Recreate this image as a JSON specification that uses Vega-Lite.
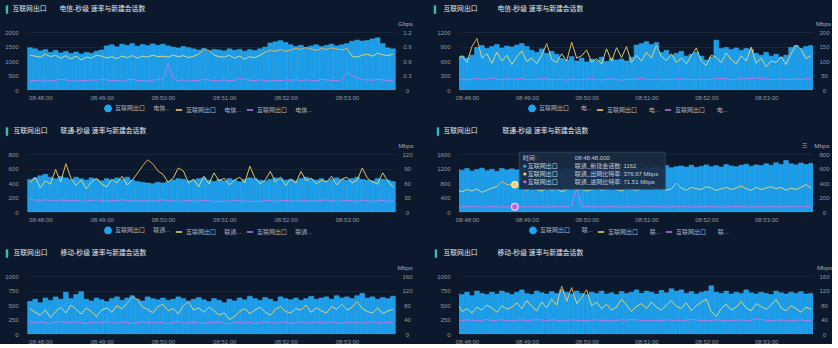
{
"$schema":"https://vega.github.io/schema/vega-lite/v6.json",
"background":"#0c192c",
"padding":{"left":4,"top":5,"right":0,"bottom":0},
"columns":2,
"spacing":{"row":64,"column":63},
"bounds":"flush",
"align":"each",
"resolve":{"scale":{"fill":"independent","stroke":"independent","shape":"independent"}},
"datasets":{
"tip":[{"t":"08:48:48","n":1162,"o":376.67,"i":71.51}],
"p1":[
{"t":"08:47:50","n":1460,"o":0.72,"i":0.2},{"t":"08:47:55","n":1420,"o":0.7,"i":0.19},{"t":"08:48:00","n":1350,"o":0.68,"i":0.21},{"t":"08:48:05","n":1390,"o":0.74,"i":0.18},{"t":"08:48:10","n":1300,"o":0.69,"i":0.19},{"t":"08:48:15","n":1360,"o":0.72,"i":0.2},{"t":"08:48:20","n":1280,"o":0.66,"i":0.22},{"t":"08:48:25","n":1330,"o":0.71,"i":0.21},{"t":"08:48:30","n":1260,"o":0.64,"i":0.19},{"t":"08:48:35","n":1310,"o":0.7,"i":0.18},{"t":"08:48:40","n":1240,"o":0.62,"i":0.2},{"t":"08:48:45","n":1300,"o":0.68,"i":0.19},
{"t":"08:48:50","n":1270,"o":0.66,"i":0.21},{"t":"08:48:55","n":1340,"o":0.72,"i":0.2},{"t":"08:49:00","n":1380,"o":0.7,"i":0.22},{"t":"08:49:05","n":1520,"o":0.66,"i":0.21},{"t":"08:49:10","n":1560,"o":0.69,"i":0.19},{"t":"08:49:15","n":1490,"o":0.65,"i":0.2},{"t":"08:49:20","n":1580,"o":0.7,"i":0.18},{"t":"08:49:25","n":1540,"o":0.67,"i":0.21},{"t":"08:49:30","n":1600,"o":0.71,"i":0.22},{"t":"08:49:35","n":1510,"o":0.66,"i":0.2},{"t":"08:49:40","n":1570,"o":0.7,"i":0.19},{"t":"08:49:45","n":1530,"o":0.68,"i":0.18},
{"t":"08:49:50","n":1590,"o":0.72,"i":0.2},{"t":"08:49:55","n":1540,"o":0.69,"i":0.22},{"t":"08:50:00","n":1580,"o":0.7,"i":0.21},{"t":"08:50:05","n":1520,"o":0.68,"i":0.56},{"t":"08:50:10","n":1480,"o":0.72,"i":0.24},{"t":"08:50:15","n":1450,"o":0.69,"i":0.19},{"t":"08:50:20","n":1500,"o":0.71,"i":0.21},{"t":"08:50:25","n":1460,"o":0.67,"i":0.18},{"t":"08:50:30","n":1420,"o":0.7,"i":0.2},{"t":"08:50:35","n":1380,"o":0.74,"i":0.19},{"t":"08:50:40","n":1430,"o":0.84,"i":0.23},{"t":"08:50:45","n":1350,"o":0.82,"i":0.21},
{"t":"08:50:50","n":1400,"o":0.72,"i":0.19},{"t":"08:50:55","n":1380,"o":0.69,"i":0.2},{"t":"08:51:00","n":1350,"o":0.68,"i":0.21},{"t":"08:51:05","n":1420,"o":0.72,"i":0.19},{"t":"08:51:10","n":1370,"o":0.66,"i":0.2},{"t":"08:51:15","n":1400,"o":0.7,"i":0.24},{"t":"08:51:20","n":1340,"o":0.64,"i":0.22},{"t":"08:51:25","n":1390,"o":0.69,"i":0.2},{"t":"08:51:30","n":1360,"o":0.67,"i":0.19},{"t":"08:51:35","n":1420,"o":0.72,"i":0.21},{"t":"08:51:40","n":1480,"o":0.78,"i":0.2},{"t":"08:51:45","n":1620,"o":0.82,"i":0.18},
{"t":"08:51:50","n":1660,"o":0.8,"i":0.2},{"t":"08:51:55","n":1700,"o":0.84,"i":0.19},{"t":"08:52:00","n":1640,"o":0.8,"i":0.21},{"t":"08:52:05","n":1560,"o":0.83,"i":0.2},{"t":"08:52:10","n":1500,"o":0.86,"i":0.22},{"t":"08:52:15","n":1540,"o":0.84,"i":0.19},{"t":"08:52:20","n":1470,"o":0.88,"i":0.21},{"t":"08:52:25","n":1520,"o":0.85,"i":0.2},{"t":"08:52:30","n":1560,"o":0.82,"i":0.19},{"t":"08:52:35","n":1500,"o":0.86,"i":0.22},{"t":"08:52:40","n":1540,"o":0.84,"i":0.21},{"t":"08:52:45","n":1580,"o":0.87,"i":0.2},
{"t":"08:52:50","n":1520,"o":0.85,"i":0.19},{"t":"08:52:55","n":1560,"o":0.83,"i":0.21},{"t":"08:53:00","n":1600,"o":0.86,"i":0.36},{"t":"08:53:05","n":1680,"o":0.7,"i":0.3},{"t":"08:53:10","n":1720,"o":0.68,"i":0.25},{"t":"08:53:15","n":1690,"o":0.72,"i":0.22},{"t":"08:53:20","n":1710,"o":0.74,"i":0.21},{"t":"08:53:25","n":1760,"o":0.7,"i":0.2},{"t":"08:53:30","n":1800,"o":0.76,"i":0.22},{"t":"08:53:35","n":1600,"o":0.73,"i":0.21},{"t":"08:53:40","n":1450,"o":0.71,"i":0.2},{"t":"08:53:45","n":1420,"o":0.74,"i":0.19}],
"p2":[
{"t":"08:47:50","n":640,"o":105,"i":36},{"t":"08:47:55","n":700,"o":118,"i":38},{"t":"08:48:00","n":660,"o":95,"i":35},{"t":"08:48:05","n":720,"o":150,"i":37},{"t":"08:48:10","n":880,"o":178,"i":40},{"t":"08:48:15","n":920,"o":110,"i":36},{"t":"08:48:20","n":860,"o":125,"i":38},{"t":"08:48:25","n":900,"o":92,"i":42},{"t":"08:48:30","n":940,"o":130,"i":37},{"t":"08:48:35","n":870,"o":100,"i":35},{"t":"08:48:40","n":910,"o":120,"i":39},{"t":"08:48:45","n":890,"o":88,"i":36},
{"t":"08:48:50","n":930,"o":115,"i":38},{"t":"08:48:55","n":960,"o":135,"i":40},{"t":"08:49:00","n":900,"o":98,"i":35},{"t":"08:49:05","n":820,"o":110,"i":37},{"t":"08:49:10","n":780,"o":90,"i":36},{"t":"08:49:15","n":850,"o":120,"i":39},{"t":"08:49:20","n":760,"o":160,"i":38},{"t":"08:49:25","n":800,"o":105,"i":35},{"t":"08:49:30","n":740,"o":95,"i":37},{"t":"08:49:35","n":650,"o":125,"i":36},{"t":"08:49:40","n":620,"o":100,"i":34},{"t":"08:49:45","n":690,"o":165,"i":38},
{"t":"08:49:50","n":600,"o":110,"i":36},{"t":"08:49:55","n":660,"o":118,"i":35},{"t":"08:50:00","n":580,"o":138,"i":37},{"t":"08:50:05","n":640,"o":96,"i":39},{"t":"08:50:10","n":610,"o":108,"i":36},{"t":"08:50:15","n":680,"o":90,"i":35},{"t":"08:50:20","n":590,"o":142,"i":37},{"t":"08:50:25","n":650,"o":100,"i":38},{"t":"08:50:30","n":620,"o":146,"i":36},{"t":"08:50:35","n":640,"o":112,"i":34},{"t":"08:50:40","n":600,"o":150,"i":37},{"t":"08:50:45","n":680,"o":95,"i":36},
{"t":"08:50:50","n":930,"o":120,"i":38},{"t":"08:50:55","n":960,"o":100,"i":40},{"t":"08:51:00","n":1000,"o":130,"i":37},{"t":"08:51:05","n":940,"o":110,"i":36},{"t":"08:51:10","n":980,"o":155,"i":38},{"t":"08:51:15","n":780,"o":115,"i":35},{"t":"08:51:20","n":820,"o":102,"i":37},{"t":"08:51:25","n":720,"o":125,"i":36},{"t":"08:51:30","n":760,"o":95,"i":38},{"t":"08:51:35","n":800,"o":110,"i":39},{"t":"08:51:40","n":700,"o":90,"i":36},{"t":"08:51:45","n":740,"o":118,"i":37},
{"t":"08:51:50","n":780,"o":145,"i":35},{"t":"08:51:55","n":700,"o":100,"i":38},{"t":"08:52:00","n":620,"o":85,"i":36},{"t":"08:52:05","n":680,"o":120,"i":37},{"t":"08:52:10","n":1030,"o":112,"i":39},{"t":"08:52:15","n":860,"o":95,"i":40},{"t":"08:52:20","n":880,"o":128,"i":38},{"t":"08:52:25","n":840,"o":105,"i":36},{"t":"08:52:30","n":870,"o":90,"i":37},{"t":"08:52:35","n":820,"o":118,"i":39},{"t":"08:52:40","n":860,"o":100,"i":38},{"t":"08:52:45","n":840,"o":148,"i":40},
{"t":"08:52:50","n":760,"o":92,"i":41},{"t":"08:52:55","n":720,"o":110,"i":39},{"t":"08:53:00","n":780,"o":80,"i":38},{"t":"08:53:05","n":700,"o":100,"i":37},{"t":"08:53:10","n":740,"o":95,"i":36},{"t":"08:53:15","n":680,"o":115,"i":38},{"t":"08:53:20","n":720,"o":88,"i":37},{"t":"08:53:25","n":880,"o":125,"i":36},{"t":"08:53:30","n":920,"o":155,"i":38},{"t":"08:53:35","n":860,"o":140,"i":37},{"t":"08:53:40","n":900,"o":108,"i":39},{"t":"08:53:45","n":920,"o":118,"i":38}],
"p3":[
{"t":"08:47:50","n":450,"o":60,"i":26},{"t":"08:47:55","n":470,"o":72,"i":25},{"t":"08:48:00","n":500,"o":50,"i":24},{"t":"08:48:05","n":520,"o":64,"i":25},{"t":"08:48:10","n":480,"o":58,"i":24},{"t":"08:48:15","n":460,"o":88,"i":23},{"t":"08:48:20","n":490,"o":62,"i":25},{"t":"08:48:25","n":470,"o":100,"i":24},{"t":"08:48:30","n":450,"o":70,"i":23},{"t":"08:48:35","n":480,"o":55,"i":24},{"t":"08:48:40","n":460,"o":66,"i":22},{"t":"08:48:45","n":440,"o":48,"i":23},
{"t":"08:48:50","n":470,"o":62,"i":24},{"t":"08:48:55","n":450,"o":70,"i":25},{"t":"08:49:00","n":430,"o":58,"i":23},{"t":"08:49:05","n":460,"o":52,"i":22},{"t":"08:49:10","n":440,"o":68,"i":24},{"t":"08:49:15","n":470,"o":60,"i":23},{"t":"08:49:20","n":450,"o":74,"i":25},{"t":"08:49:25","n":480,"o":56,"i":24},{"t":"08:49:30","n":440,"o":66,"i":23},{"t":"08:49:35","n":420,"o":80,"i":22},{"t":"08:49:40","n":410,"o":95,"i":24},{"t":"08:49:45","n":400,"o":108,"i":23},
{"t":"08:49:50","n":390,"o":100,"i":22},{"t":"08:49:55","n":410,"o":85,"i":24},{"t":"08:50:00","n":400,"o":78,"i":25},{"t":"08:50:05","n":420,"o":62,"i":24},{"t":"08:50:10","n":440,"o":70,"i":23},{"t":"08:50:15","n":460,"o":91,"i":22},{"t":"08:50:20","n":450,"o":85,"i":23},{"t":"08:50:25","n":430,"o":60,"i":24},{"t":"08:50:30","n":440,"o":68,"i":22},{"t":"08:50:35","n":460,"o":52,"i":23},{"t":"08:50:40","n":470,"o":74,"i":24},{"t":"08:50:45","n":440,"o":58,"i":23},
{"t":"08:50:50","n":420,"o":81,"i":22},{"t":"08:50:55","n":450,"o":64,"i":21},{"t":"08:51:00","n":430,"o":70,"i":23},{"t":"08:51:05","n":460,"o":56,"i":22},{"t":"08:51:10","n":440,"o":66,"i":24},{"t":"08:51:15","n":420,"o":72,"i":23},{"t":"08:51:20","n":450,"o":60,"i":22},{"t":"08:51:25","n":470,"o":95,"i":23},{"t":"08:51:30","n":460,"o":70,"i":21},{"t":"08:51:35","n":440,"o":58,"i":22},{"t":"08:51:40","n":430,"o":66,"i":24},{"t":"08:51:45","n":450,"o":84,"i":23},
{"t":"08:51:50","n":470,"o":62,"i":22},{"t":"08:51:55","n":460,"o":72,"i":23},{"t":"08:52:00","n":440,"o":55,"i":24},{"t":"08:52:05","n":450,"o":68,"i":23},{"t":"08:52:10","n":430,"o":60,"i":22},{"t":"08:52:15","n":460,"o":84,"i":23},{"t":"08:52:20","n":480,"o":65,"i":24},{"t":"08:52:25","n":450,"o":70,"i":22},{"t":"08:52:30","n":440,"o":58,"i":23},{"t":"08:52:35","n":460,"o":66,"i":24},{"t":"08:52:40","n":430,"o":62,"i":25},{"t":"08:52:45","n":450,"o":74,"i":23},
{"t":"08:52:50","n":470,"o":56,"i":22},{"t":"08:52:55","n":450,"o":68,"i":23},{"t":"08:53:00","n":440,"o":72,"i":24},{"t":"08:53:05","n":460,"o":60,"i":23},{"t":"08:53:10","n":480,"o":66,"i":22},{"t":"08:53:15","n":450,"o":91,"i":24},{"t":"08:53:20","n":440,"o":70,"i":23},{"t":"08:53:25","n":430,"o":62,"i":22},{"t":"08:53:30","n":460,"o":58,"i":23},{"t":"08:53:35","n":450,"o":81,"i":24},{"t":"08:53:40","n":440,"o":64,"i":22},{"t":"08:53:45","n":420,"o":52,"i":23}],
"p4":[
{"t":"08:47:50","n":1180,"o":300,"i":72},{"t":"08:47:55","n":1150,"o":280,"i":70},{"t":"08:48:00","n":1200,"o":310,"i":74},{"t":"08:48:05","n":1130,"o":290,"i":71},{"t":"08:48:10","n":1170,"o":320,"i":73},{"t":"08:48:15","n":1210,"o":270,"i":70},{"t":"08:48:20","n":1140,"o":300,"i":72},{"t":"08:48:25","n":1180,"o":330,"i":75},{"t":"08:48:30","n":1120,"o":350,"i":71},{"t":"08:48:35","n":1200,"o":420,"i":70},{"t":"08:48:40","n":1160,"o":380,"i":73},{"t":"08:48:45","n":1190,"o":370,"i":72},
{"t":"08:48:50","n":1160,"o":380,"i":71},{"t":"08:48:55","n":1230,"o":320,"i":70},{"t":"08:49:00","n":1170,"o":300,"i":74},{"t":"08:49:05","n":1200,"o":340,"i":72},{"t":"08:49:10","n":1150,"o":310,"i":71},{"t":"08:49:15","n":1180,"o":290,"i":73},{"t":"08:49:20","n":1210,"o":330,"i":70},{"t":"08:49:25","n":1160,"o":300,"i":72},{"t":"08:49:30","n":1190,"o":320,"i":74},{"t":"08:49:35","n":1140,"o":280,"i":71},{"t":"08:49:40","n":1200,"o":310,"i":73},{"t":"08:49:45","n":1170,"o":340,"i":90},
{"t":"08:49:50","n":1220,"o":300,"i":330},{"t":"08:49:55","n":1180,"o":320,"i":85},{"t":"08:50:00","n":1150,"o":290,"i":72},{"t":"08:50:05","n":1200,"o":310,"i":70},{"t":"08:50:10","n":1170,"o":330,"i":73},{"t":"08:50:15","n":1230,"o":300,"i":71},{"t":"08:50:20","n":1190,"o":320,"i":72},{"t":"08:50:25","n":1160,"o":340,"i":74},{"t":"08:50:30","n":1210,"o":310,"i":70},{"t":"08:50:35","n":1180,"o":290,"i":72},{"t":"08:50:40","n":1240,"o":330,"i":71},{"t":"08:50:45","n":1200,"o":310,"i":73},
{"t":"08:50:50","n":1220,"o":300,"i":70},{"t":"08:50:55","n":1180,"o":320,"i":72},{"t":"08:51:00","n":1250,"o":380,"i":74},{"t":"08:51:05","n":1210,"o":340,"i":71},{"t":"08:51:10","n":1260,"o":310,"i":73},{"t":"08:51:15","n":1230,"o":330,"i":72},{"t":"08:51:20","n":1280,"o":300,"i":70},{"t":"08:51:25","n":1220,"o":320,"i":71},{"t":"08:51:30","n":1250,"o":400,"i":74},{"t":"08:51:35","n":1270,"o":330,"i":72},{"t":"08:51:40","n":1240,"o":300,"i":73},{"t":"08:51:45","n":1290,"o":340,"i":70},
{"t":"08:51:50","n":1230,"o":320,"i":72},{"t":"08:51:55","n":1260,"o":310,"i":71},{"t":"08:52:00","n":1300,"o":350,"i":73},{"t":"08:52:05","n":1250,"o":330,"i":74},{"t":"08:52:10","n":1280,"o":300,"i":72},{"t":"08:52:15","n":1240,"o":320,"i":70},{"t":"08:52:20","n":1310,"o":340,"i":71},{"t":"08:52:25","n":1270,"o":310,"i":73},{"t":"08:52:30","n":1250,"o":330,"i":72},{"t":"08:52:35","n":1290,"o":360,"i":74},{"t":"08:52:40","n":1320,"o":320,"i":71},{"t":"08:52:45","n":1260,"o":300,"i":70},
{"t":"08:52:50","n":1300,"o":340,"i":72},{"t":"08:52:55","n":1280,"o":310,"i":73},{"t":"08:53:00","n":1330,"o":330,"i":71},{"t":"08:53:05","n":1290,"o":350,"i":72},{"t":"08:53:10","n":1360,"o":320,"i":74},{"t":"08:53:15","n":1310,"o":340,"i":70},{"t":"08:53:20","n":1420,"o":300,"i":73},{"t":"08:53:25","n":1330,"o":330,"i":72},{"t":"08:53:30","n":1300,"o":310,"i":71},{"t":"08:53:35","n":1350,"o":340,"i":73},{"t":"08:53:40","n":1310,"o":380,"i":72},{"t":"08:53:45","n":1340,"o":330,"i":71}],
"p5":[
{"t":"08:47:50","n":560,"o":70,"i":32},{"t":"08:47:55","n":600,"o":60,"i":30},{"t":"08:48:00","n":540,"o":52,"i":34},{"t":"08:48:05","n":620,"o":66,"i":31},{"t":"08:48:10","n":580,"o":45,"i":29},{"t":"08:48:15","n":640,"o":62,"i":33},{"t":"08:48:20","n":600,"o":74,"i":35},{"t":"08:48:25","n":720,"o":58,"i":30},{"t":"08:48:30","n":610,"o":80,"i":32},{"t":"08:48:35","n":680,"o":68,"i":34},{"t":"08:48:40","n":730,"o":55,"i":31},{"t":"08:48:45","n":600,"o":72,"i":29},
{"t":"08:48:50","n":570,"o":62,"i":33},{"t":"08:48:55","n":620,"o":48,"i":30},{"t":"08:49:00","n":590,"o":66,"i":32},{"t":"08:49:05","n":560,"o":72,"i":35},{"t":"08:49:10","n":610,"o":60,"i":31},{"t":"08:49:15","n":640,"o":78,"i":30},{"t":"08:49:20","n":580,"o":70,"i":33},{"t":"08:49:25","n":620,"o":85,"i":32},{"t":"08:49:30","n":660,"o":102,"i":29},{"t":"08:49:35","n":600,"o":96,"i":31},{"t":"08:49:40","n":570,"o":74,"i":34},{"t":"08:49:45","n":640,"o":68,"i":32},
{"t":"08:49:50","n":610,"o":58,"i":30},{"t":"08:49:55","n":590,"o":76,"i":33},{"t":"08:50:00","n":620,"o":82,"i":31},{"t":"08:50:05","n":580,"o":64,"i":29},{"t":"08:50:10","n":600,"o":70,"i":32},{"t":"08:50:15","n":640,"o":56,"i":34},{"t":"08:50:20","n":610,"o":78,"i":30},{"t":"08:50:25","n":570,"o":88,"i":31},{"t":"08:50:30","n":600,"o":66,"i":33},{"t":"08:50:35","n":630,"o":72,"i":30},{"t":"08:50:40","n":590,"o":60,"i":29},{"t":"08:50:45","n":560,"o":74,"i":32},
{"t":"08:50:50","n":610,"o":64,"i":31},{"t":"08:50:55","n":580,"o":52,"i":34},{"t":"08:51:00","n":540,"o":58,"i":30},{"t":"08:51:05","n":600,"o":40,"i":28},{"t":"08:51:10","n":570,"o":48,"i":31},{"t":"08:51:15","n":620,"o":62,"i":33},{"t":"08:51:20","n":590,"o":70,"i":30},{"t":"08:51:25","n":650,"o":56,"i":32},{"t":"08:51:30","n":610,"o":66,"i":29},{"t":"08:51:35","n":580,"o":74,"i":31},{"t":"08:51:40","n":630,"o":60,"i":34},{"t":"08:51:45","n":600,"o":52,"i":32},
{"t":"08:51:50","n":560,"o":68,"i":30},{"t":"08:51:55","n":640,"o":76,"i":31},{"t":"08:52:00","n":610,"o":62,"i":33},{"t":"08:52:05","n":590,"o":58,"i":29},{"t":"08:52:10","n":620,"o":70,"i":32},{"t":"08:52:15","n":580,"o":66,"i":34},{"t":"08:52:20","n":610,"o":80,"i":30},{"t":"08:52:25","n":650,"o":60,"i":31},{"t":"08:52:30","n":600,"o":72,"i":33},{"t":"08:52:35","n":620,"o":64,"i":32},{"t":"08:52:40","n":640,"o":58,"i":30},{"t":"08:52:45","n":600,"o":76,"i":34},
{"t":"08:52:50","n":660,"o":68,"i":31},{"t":"08:52:55","n":620,"o":82,"i":29},{"t":"08:53:00","n":640,"o":66,"i":32},{"t":"08:53:05","n":610,"o":74,"i":33},{"t":"08:53:10","n":660,"o":90,"i":31},{"t":"08:53:15","n":700,"o":70,"i":30},{"t":"08:53:20","n":620,"o":62,"i":32},{"t":"08:53:25","n":640,"o":58,"i":34},{"t":"08:53:30","n":600,"o":72,"i":31},{"t":"08:53:35","n":630,"o":56,"i":30},{"t":"08:53:40","n":610,"o":64,"i":32},{"t":"08:53:45","n":650,"o":68,"i":31}],
"p6":[
{"t":"08:47:50","n":700,"o":85,"i":38},{"t":"08:47:55","n":680,"o":62,"i":37},{"t":"08:48:00","n":720,"o":70,"i":39},{"t":"08:48:05","n":660,"o":58,"i":38},{"t":"08:48:10","n":740,"o":74,"i":36},{"t":"08:48:15","n":700,"o":66,"i":38},{"t":"08:48:20","n":680,"o":80,"i":40},{"t":"08:48:25","n":720,"o":72,"i":37},{"t":"08:48:30","n":690,"o":60,"i":38},{"t":"08:48:35","n":740,"o":78,"i":39},{"t":"08:48:40","n":710,"o":68,"i":37},{"t":"08:48:45","n":680,"o":74,"i":36},
{"t":"08:48:50","n":720,"o":86,"i":38},{"t":"08:48:55","n":760,"o":70,"i":39},{"t":"08:49:00","n":700,"o":92,"i":37},{"t":"08:49:05","n":680,"o":76,"i":38},{"t":"08:49:10","n":740,"o":64,"i":40},{"t":"08:49:15","n":710,"o":88,"i":38},{"t":"08:49:20","n":690,"o":72,"i":37},{"t":"08:49:25","n":730,"o":96,"i":39},{"t":"08:49:30","n":700,"o":80,"i":38},{"t":"08:49:35","n":760,"o":132,"i":36},{"t":"08:49:40","n":720,"o":90,"i":37},{"t":"08:49:45","n":690,"o":128,"i":39},
{"t":"08:49:50","n":740,"o":84,"i":38},{"t":"08:49:55","n":700,"o":100,"i":37},{"t":"08:50:00","n":680,"o":122,"i":36},{"t":"08:50:05","n":720,"o":78,"i":38},{"t":"08:50:10","n":700,"o":88,"i":39},{"t":"08:50:15","n":740,"o":70,"i":37},{"t":"08:50:20","n":690,"o":82,"i":38},{"t":"08:50:25","n":710,"o":66,"i":36},{"t":"08:50:30","n":680,"o":74,"i":37},{"t":"08:50:35","n":730,"o":96,"i":39},{"t":"08:50:40","n":700,"o":80,"i":38},{"t":"08:50:45","n":720,"o":62,"i":40},
{"t":"08:50:50","n":760,"o":76,"i":39},{"t":"08:50:55","n":700,"o":84,"i":37},{"t":"08:51:00","n":740,"o":70,"i":38},{"t":"08:51:05","n":720,"o":88,"i":36},{"t":"08:51:10","n":690,"o":74,"i":38},{"t":"08:51:15","n":750,"o":66,"i":37},{"t":"08:51:20","n":710,"o":80,"i":39},{"t":"08:51:25","n":780,"o":92,"i":38},{"t":"08:51:30","n":740,"o":76,"i":37},{"t":"08:51:35","n":760,"o":70,"i":36},{"t":"08:51:40","n":700,"o":86,"i":38},{"t":"08:51:45","n":730,"o":64,"i":40},
{"t":"08:51:50","n":690,"o":78,"i":39},{"t":"08:51:55","n":720,"o":88,"i":37},{"t":"08:52:00","n":740,"o":96,"i":38},{"t":"08:52:05","n":830,"o":62,"i":37},{"t":"08:52:10","n":720,"o":48,"i":39},{"t":"08:52:15","n":700,"o":70,"i":38},{"t":"08:52:20","n":740,"o":82,"i":36},{"t":"08:52:25","n":690,"o":66,"i":37},{"t":"08:52:30","n":720,"o":74,"i":38},{"t":"08:52:35","n":700,"o":90,"i":39},{"t":"08:52:40","n":760,"o":72,"i":37},{"t":"08:52:45","n":710,"o":64,"i":38},
{"t":"08:52:50","n":690,"o":84,"i":42},{"t":"08:52:55","n":720,"o":76,"i":40},{"t":"08:53:00","n":700,"o":68,"i":38},{"t":"08:53:05","n":680,"o":80,"i":37},{"t":"08:53:10","n":740,"o":96,"i":39},{"t":"08:53:15","n":710,"o":72,"i":38},{"t":"08:53:20","n":690,"o":64,"i":36},{"t":"08:53:25","n":720,"o":78,"i":37},{"t":"08:53:30","n":700,"o":70,"i":38},{"t":"08:53:35","n":730,"o":60,"i":39},{"t":"08:53:40","n":690,"o":74,"i":37},{"t":"08:53:45","n":700,"o":68,"i":38}]
},
"concat":[
{"width":369,"height":58,"title":{"text":"▍","dx":-21},
"data":{"name":"p1","format":{"parse":{"t":"date:'%H:%M:%S'"}}},
"encoding":{"x":{"field":"t","type":"temporal","scale":{"padding":0,"domain":[{"year":1900,"month":1,"date":1,"hours":8,"minutes":47,"seconds":47},{"year":1900,"month":1,"date":1,"hours":8,"minutes":53,"seconds":48}]},"axis":{"format":"%H:%M:%S","values":[{"year":1900,"month":1,"date":1,"hours":8,"minutes":48},{"year":1900,"month":1,"date":1,"hours":8,"minutes":49},{"year":1900,"month":1,"date":1,"hours":8,"minutes":50},{"year":1900,"month":1,"date":1,"hours":8,"minutes":51},{"year":1900,"month":1,"date":1,"hours":8,"minutes":52},{"year":1900,"month":1,"date":1,"hours":8,"minutes":53}],"title":"电信-秒级 速率与新建会话数","titleX":32}}},
"layer":[
{"mark":{"type":"bar","size":4.8,"color":"#1a9eec","stroke":"#3ab3f4","strokeWidth":0.5,"clip":true},"encoding":{"y":{"field":"n","type":"quantitative","scale":{"domain":[0,2000],"nice":false},"axis":{"values":[0,500,1000,1500,2000],"format":"d","title":"互联网出口","titleX":-15}}}},
{"mark":{"type":"line","strokeWidth":0.9,"clip":true,"color":{"gradient":"linear","x1":0,"y1":1,"x2":0,"y2":0,"stops":[{"offset":0,"color":"#cfe39a"},{"offset":0.5,"color":"#f1da6e"},{"offset":1,"color":"#f4a53c"}]}},"encoding":{"y":{"field":"o","type":"quantitative","scale":{"domain":[0,1.2],"nice":false},"axis":{"orient":"right","values":[0,0.3,0.6,0.9,1.2],"format":".1~f","title":"Gbps","titleX":9}}}},
{"mark":{"type":"line","strokeWidth":1,"clip":true,"color":"#b37be9"},"encoding":{"y":{"field":"i","type":"quantitative","scale":{"domain":[0,1.2],"nice":false},"axis":null}}},
{"transform":[{"filter":"false"}],"mark":{"type":"point","filled":true,"opacity":1},"encoding":{
"fill":{"field":"s","type":"nominal","scale":{"domain":["a","b","c"],"range":["#1ba6f2","#f2d66b","#b37be9"]},"legend":{"title":null,"orient":"none","legendX":77,"legendY":72,"labelExpr":"'互联网出口\u00a0\u00a0\u00a0\u00a0\u00a0电信...'"}},
"stroke":{"field":"s","type":"nominal","scale":{"domain":["a","b","c"],"range":["#1ba6f2","#f2d66b","#b37be9"]}},
"shape":{"field":"s","type":"nominal","scale":{"domain":["a","b","c"],"range":["circle","stroke","stroke"]}}}}
],
"resolve":{"scale":{"y":"independent"}}},

{"width":354,"height":58,"title":{"text":"▍","dx":-25},
"data":{"name":"p2","format":{"parse":{"t":"date:'%H:%M:%S'"}}},
"encoding":{"x":{"field":"t","type":"temporal","scale":{"padding":0,"domain":[{"year":1900,"month":1,"date":1,"hours":8,"minutes":47,"seconds":52},{"year":1900,"month":1,"date":1,"hours":8,"minutes":53,"seconds":47}]},"axis":{"format":"%H:%M:%S","values":[{"year":1900,"month":1,"date":1,"hours":8,"minutes":48},{"year":1900,"month":1,"date":1,"hours":8,"minutes":49},{"year":1900,"month":1,"date":1,"hours":8,"minutes":50},{"year":1900,"month":1,"date":1,"hours":8,"minutes":51},{"year":1900,"month":1,"date":1,"hours":8,"minutes":52},{"year":1900,"month":1,"date":1,"hours":8,"minutes":53}],"title":"电信-秒级 速率与新建会话数","titleX":38}}},
"layer":[
{"mark":{"type":"bar","size":4.7,"color":"#1a9eec","stroke":"#3ab3f4","strokeWidth":0.5,"clip":true},"encoding":{"y":{"field":"n","type":"quantitative","scale":{"domain":[0,1200],"nice":false},"axis":{"values":[0,300,600,900,1200],"format":"d","title":"互联网出口","titleX":-16}}}},
{"mark":{"type":"line","strokeWidth":0.9,"clip":true,"color":{"gradient":"linear","x1":0,"y1":1,"x2":0,"y2":0,"stops":[{"offset":0,"color":"#cfe39a"},{"offset":0.5,"color":"#f1da6e"},{"offset":1,"color":"#f4a53c"}]}},"encoding":{"y":{"field":"o","type":"quantitative","scale":{"domain":[0,200],"nice":false},"axis":{"orient":"right","values":[0,50,100,150,200],"format":"d","title":"Mbps","titleX":10}}}},
{"mark":{"type":"line","strokeWidth":1,"clip":true,"color":"#b37be9"},"encoding":{"y":{"field":"i","type":"quantitative","scale":{"domain":[0,200],"nice":false},"axis":null}}},
{"transform":[{"filter":"false"}],"mark":{"type":"point","filled":true,"opacity":1},"encoding":{
"fill":{"field":"s","type":"nominal","scale":{"domain":["a","b","c"],"range":["#1ba6f2","#f2d66b","#b37be9"]},"legend":{"title":null,"orient":"none","legendX":69,"legendY":72,"labelExpr":"'互联网出口\u00a0\u00a0\u00a0\u00a0\u00a0\u00a0\u00a0电...'"}},
"stroke":{"field":"s","type":"nominal","scale":{"domain":["a","b","c"],"range":["#1ba6f2","#f2d66b","#b37be9"]}},
"shape":{"field":"s","type":"nominal","scale":{"domain":["a","b","c"],"range":["circle","stroke","stroke"]}}}}
],
"resolve":{"scale":{"y":"independent"}}},

{"width":369,"height":58,"title":{"text":"▍","dx":-21},
"data":{"name":"p3","format":{"parse":{"t":"date:'%H:%M:%S'"}}},
"encoding":{"x":{"field":"t","type":"temporal","scale":{"padding":0,"domain":[{"year":1900,"month":1,"date":1,"hours":8,"minutes":47,"seconds":47},{"year":1900,"month":1,"date":1,"hours":8,"minutes":53,"seconds":48}]},"axis":{"format":"%H:%M:%S","values":[{"year":1900,"month":1,"date":1,"hours":8,"minutes":48},{"year":1900,"month":1,"date":1,"hours":8,"minutes":49},{"year":1900,"month":1,"date":1,"hours":8,"minutes":50},{"year":1900,"month":1,"date":1,"hours":8,"minutes":51},{"year":1900,"month":1,"date":1,"hours":8,"minutes":52},{"year":1900,"month":1,"date":1,"hours":8,"minutes":53}],"title":"联通-秒级 速率与新建会话数","titleX":33}}},
"layer":[
{"mark":{"type":"bar","size":4.8,"color":"#1a9eec","stroke":"#3ab3f4","strokeWidth":0.5,"clip":true},"encoding":{"y":{"field":"n","type":"quantitative","scale":{"domain":[0,800],"nice":false},"axis":{"values":[0,200,400,600,800],"format":"d","title":"互联网出口","titleX":-14}}}},
{"mark":{"type":"line","strokeWidth":0.9,"clip":true,"color":{"gradient":"linear","x1":0,"y1":1,"x2":0,"y2":0,"stops":[{"offset":0,"color":"#cfe39a"},{"offset":0.5,"color":"#f1da6e"},{"offset":1,"color":"#f4a53c"}]}},"encoding":{"y":{"field":"o","type":"quantitative","scale":{"domain":[0,120],"nice":false},"axis":{"orient":"right","values":[0,30,60,90,120],"format":"d","title":"Mbps","titleX":9.5}}}},
{"mark":{"type":"line","strokeWidth":1,"clip":true,"color":"#b37be9"},"encoding":{"y":{"field":"i","type":"quantitative","scale":{"domain":[0,120],"nice":false},"axis":null}}},
{"transform":[{"filter":"false"}],"mark":{"type":"point","filled":true,"opacity":1},"encoding":{
"fill":{"field":"s","type":"nominal","scale":{"domain":["a","b","c"],"range":["#1ba6f2","#f2d66b","#b37be9"]},"legend":{"title":null,"orient":"none","legendX":77,"legendY":72,"labelExpr":"'互联网出口\u00a0\u00a0\u00a0\u00a0\u00a0联通...'"}},
"stroke":{"field":"s","type":"nominal","scale":{"domain":["a","b","c"],"range":["#1ba6f2","#f2d66b","#b37be9"]}},
"shape":{"field":"s","type":"nominal","scale":{"domain":["a","b","c"],"range":["circle","stroke","stroke"]}}}}
],
"resolve":{"scale":{"y":"independent"}}},

{"width":354,"height":58,"title":{"text":"▍","dx":-22},
"data":{"name":"p4","format":{"parse":{"t":"date:'%H:%M:%S'"}}},
"encoding":{"x":{"field":"t","type":"temporal","scale":{"padding":0,"domain":[{"year":1900,"month":1,"date":1,"hours":8,"minutes":47,"seconds":52},{"year":1900,"month":1,"date":1,"hours":8,"minutes":53,"seconds":47}]},"axis":{"format":"%H:%M:%S","values":[{"year":1900,"month":1,"date":1,"hours":8,"minutes":48},{"year":1900,"month":1,"date":1,"hours":8,"minutes":49},{"year":1900,"month":1,"date":1,"hours":8,"minutes":50},{"year":1900,"month":1,"date":1,"hours":8,"minutes":51},{"year":1900,"month":1,"date":1,"hours":8,"minutes":52},{"year":1900,"month":1,"date":1,"hours":8,"minutes":53}],"title":"联通-秒级 速率与新建会话数","titleX":43}}},
"layer":[
{"mark":{"type":"bar","size":4.7,"color":"#1a9eec","stroke":"#3ab3f4","strokeWidth":0.5,"clip":true},"encoding":{"y":{"field":"n","type":"quantitative","scale":{"domain":[0,1600],"nice":false},"axis":{"values":[0,400,800,1200,1600],"format":"d","title":"互联网出口","titleX":-16}}}},
{"mark":{"type":"line","strokeWidth":0.9,"clip":true,"color":{"gradient":"linear","x1":0,"y1":1,"x2":0,"y2":0,"stops":[{"offset":0,"color":"#cfe39a"},{"offset":0.5,"color":"#f1da6e"},{"offset":1,"color":"#f4a53c"}]}},"encoding":{"y":{"field":"o","type":"quantitative","scale":{"domain":[0,800],"nice":false},"axis":{"orient":"right","values":[0,200,400,600,800],"format":"d","title":"☰\u00a0\u00a0\u00a0\u00a0Mbps","titleAlign":"right","titleX":16}}}},
{"mark":{"type":"line","strokeWidth":1,"clip":true,"color":"#b37be9"},"encoding":{"y":{"field":"i","type":"quantitative","scale":{"domain":[0,800],"nice":false},"axis":null}}},
{"transform":[{"filter":"false"}],"mark":{"type":"point","filled":true,"opacity":1},"encoding":{
"fill":{"field":"s","type":"nominal","scale":{"domain":["a","b","c"],"range":["#1ba6f2","#f2d66b","#b37be9"]},"legend":{"title":null,"orient":"none","legendX":70,"legendY":72,"labelExpr":"'互联网出口\u00a0\u00a0\u00a0\u00a0\u00a0\u00a0\u00a0联...'"}},
"stroke":{"field":"s","type":"nominal","scale":{"domain":["a","b","c"],"range":["#1ba6f2","#f2d66b","#b37be9"]}},
"shape":{"field":"s","type":"nominal","scale":{"domain":["a","b","c"],"range":["circle","stroke","stroke"]}}}},
{"data":{"name":"tip","format":{"parse":{"t":"date:'%H:%M:%S'"}}},"mark":{"type":"point","filled":true,"size":45,"fill":"#f3d46a","stroke":"#fff2bf","strokeWidth":1,"opacity":1},"encoding":{"y":{"field":"o","type":"quantitative","scale":{"domain":[0,800],"nice":false},"axis":null}}},
{"data":{"name":"tip","format":{"parse":{"t":"date:'%H:%M:%S'"}}},"mark":{"type":"point","filled":true,"size":45,"fill":"#c663dc","stroke":"#f6cdfd","strokeWidth":1.2,"opacity":1},"encoding":{"y":{"field":"i","type":"quantitative","scale":{"domain":[0,800],"nice":false},"axis":null}}},
{"data":{"name":"tip","format":{"parse":{"t":"date:'%H:%M:%S'"}}},"mark":{"type":"point","shape":"M-1,-0.2534H1V0.2534H-1Z","size":21316,"filled":true,"fill":"#1b2a42","fillOpacity":0.92,"stroke":"#34475f","strokeWidth":0.8,"opacity":1,"xOffset":77.5,"yOffset":-14},"encoding":{"y":{"field":"o","type":"quantitative","scale":{"domain":[0,800],"nice":false},"axis":null}}},
{"data":{"name":"tip","format":{"parse":{"t":"date:'%H:%M:%S'"}}},"mark":{"type":"point","filled":true,"size":10,"color":"#2ba8f0","opacity":1,"xOffset":10,"yOffset":-18.5},"encoding":{"y":{"field":"o","type":"quantitative","scale":{"domain":[0,800],"nice":false},"axis":null}}},
{"data":{"name":"tip","format":{"parse":{"t":"date:'%H:%M:%S'"}}},"mark":{"type":"point","filled":true,"size":10,"color":"#f3d46a","opacity":1,"xOffset":10,"yOffset":-10.7},"encoding":{"y":{"field":"o","type":"quantitative","scale":{"domain":[0,800],"nice":false},"axis":null}}},
{"data":{"name":"tip","format":{"parse":{"t":"date:'%H:%M:%S'"}}},"mark":{"type":"point","filled":true,"size":10,"color":"#c86ae6","opacity":1,"xOffset":10,"yOffset":-2.9},"encoding":{"y":{"field":"o","type":"quantitative","scale":{"domain":[0,800],"nice":false},"axis":null}}},
{"data":{"name":"tip","format":{"parse":{"t":"date:'%H:%M:%S'"}}},"mark":{"type":"text","text":"时间:","align":"left","baseline":"middle","dx":8,"dy":-26.5,"fontSize":6,"color":"#c5cdd8"},"encoding":{"y":{"field":"o","type":"quantitative","scale":{"domain":[0,800],"nice":false},"axis":null}}},
{"data":{"name":"tip","format":{"parse":{"t":"date:'%H:%M:%S'"}}},"mark":{"type":"text","text":["互联网出口","互联网出口","互联网出口"],"lineHeight":7.8,"align":"left","baseline":"middle","dx":13,"dy":-18.5,"fontSize":6,"color":"#c5cdd8"},"encoding":{"y":{"field":"o","type":"quantitative","scale":{"domain":[0,800],"nice":false},"axis":null}}},
{"data":{"name":"tip","format":{"parse":{"t":"date:'%H:%M:%S'"}}},"mark":{"type":"text","text":["08:48:48.000","联通_新建会话数: 1162","联通_出网比特率: 376.67 Mbps","联通_进网比特率: 71.51 Mbps"],"lineHeight":7.8,"align":"left","baseline":"middle","dx":60,"dy":-26.5,"fontSize":6,"color":"#c5cdd8"},"encoding":{"y":{"field":"o","type":"quantitative","scale":{"domain":[0,800],"nice":false},"axis":null}}}
],
"resolve":{"scale":{"y":"independent"}}},

{"width":369,"height":58,"title":{"text":"▍","dx":-21},
"data":{"name":"p5","format":{"parse":{"t":"date:'%H:%M:%S'"}}},
"encoding":{"x":{"field":"t","type":"temporal","scale":{"padding":0,"domain":[{"year":1900,"month":1,"date":1,"hours":8,"minutes":47,"seconds":47},{"year":1900,"month":1,"date":1,"hours":8,"minutes":53,"seconds":48}]},"axis":{"format":"%H:%M:%S","values":[{"year":1900,"month":1,"date":1,"hours":8,"minutes":48},{"year":1900,"month":1,"date":1,"hours":8,"minutes":49},{"year":1900,"month":1,"date":1,"hours":8,"minutes":50},{"year":1900,"month":1,"date":1,"hours":8,"minutes":51},{"year":1900,"month":1,"date":1,"hours":8,"minutes":52},{"year":1900,"month":1,"date":1,"hours":8,"minutes":53}],"title":"移动-秒级 速率与新建会话数","titleX":33}}},
"layer":[
{"mark":{"type":"bar","size":4.8,"color":"#1a9eec","stroke":"#3ab3f4","strokeWidth":0.5,"clip":true},"encoding":{"y":{"field":"n","type":"quantitative","scale":{"domain":[0,1000],"nice":false},"axis":{"values":[0,250,500,750,1000],"format":"d","title":"互联网出口","titleX":-14}}}},
{"mark":{"type":"line","strokeWidth":0.9,"clip":true,"color":{"gradient":"linear","x1":0,"y1":1,"x2":0,"y2":0,"stops":[{"offset":0,"color":"#cfe39a"},{"offset":0.5,"color":"#f1da6e"},{"offset":1,"color":"#f4a53c"}]}},"encoding":{"y":{"field":"o","type":"quantitative","scale":{"domain":[0,160],"nice":false},"axis":{"orient":"right","values":[0,40,80,120,160],"format":"d","title":"Mbps","titleX":8.5}}}},
{"mark":{"type":"line","strokeWidth":1,"clip":true,"color":"#b37be9"},"encoding":{"y":{"field":"i","type":"quantitative","scale":{"domain":[0,160],"nice":false},"axis":null}}}
],
"resolve":{"scale":{"y":"independent"}}},

{"width":354,"height":58,"title":{"text":"▍","dx":-24},
"data":{"name":"p6","format":{"parse":{"t":"date:'%H:%M:%S'"}}},
"encoding":{"x":{"field":"t","type":"temporal","scale":{"padding":0,"domain":[{"year":1900,"month":1,"date":1,"hours":8,"minutes":47,"seconds":52},{"year":1900,"month":1,"date":1,"hours":8,"minutes":53,"seconds":47}]},"axis":{"format":"%H:%M:%S","values":[{"year":1900,"month":1,"date":1,"hours":8,"minutes":48},{"year":1900,"month":1,"date":1,"hours":8,"minutes":49},{"year":1900,"month":1,"date":1,"hours":8,"minutes":50},{"year":1900,"month":1,"date":1,"hours":8,"minutes":51},{"year":1900,"month":1,"date":1,"hours":8,"minutes":52},{"year":1900,"month":1,"date":1,"hours":8,"minutes":53}],"title":"移动-秒级 速率与新建会话数","titleX":38}}},
"layer":[
{"mark":{"type":"bar","size":4.7,"color":"#1a9eec","stroke":"#3ab3f4","strokeWidth":0.5,"clip":true},"encoding":{"y":{"field":"n","type":"quantitative","scale":{"domain":[0,1000],"nice":false},"axis":{"values":[0,250,500,750,1000],"format":"d","title":"互联网出口","titleX":-16}}}},
{"mark":{"type":"line","strokeWidth":0.9,"clip":true,"color":{"gradient":"linear","x1":0,"y1":1,"x2":0,"y2":0,"stops":[{"offset":0,"color":"#cfe39a"},{"offset":0.5,"color":"#f1da6e"},{"offset":1,"color":"#f4a53c"}]}},"encoding":{"y":{"field":"o","type":"quantitative","scale":{"domain":[0,160],"nice":false},"axis":{"orient":"right","values":[0,40,80,120,160],"format":"d","title":"Mbps","titleX":11}}}},
{"mark":{"type":"line","strokeWidth":1,"clip":true,"color":"#b37be9"},"encoding":{"y":{"field":"i","type":"quantitative","scale":{"domain":[0,160],"nice":false},"axis":null}}}
],
"resolve":{"scale":{"y":"independent"}}}
],
"config":{
"font":"Liberation Sans, Noto Sans CJK SC",
"view":{"stroke":null},
"axis":{"domain":false,"ticks":false,"tickSize":0,"grid":false,"labelColor":"#8d98a7","labelFontSize":6,"titleColor":"#e1e7ee","titleFontSize":6.8,"titleFontWeight":"normal","labelOverlap":false,"labelFlush":false,"titleAngle":0,"titleBaseline":"middle"},
"axisLeft":{"grid":true,"gridColor":"#1c2b40","gridWidth":0.7,"labelPadding":9,"titleAlign":"left","titleY":-24},
"axisRight":{"labelAlign":"center","labelPadding":11,"titleAlign":"center","titleY":-9,"titleColor":"#a0aab7","titleFontSize":6.2},
"axisBottom":{"labelPadding":4,"titleAlign":"left","titleY":-82},
"legend":{"orient":"none","direction":"horizontal","labelFontSize":6,"labelColor":"#aab3bf","symbolSize":40,"symbolStrokeWidth":1.5,"symbolOpacity":1,"labelOffset":3,"columnPadding":1,"padding":0,"rowPadding":0},
"title":{"font":"DejaVu Sans","color":"#3fc3cc","fontSize":7,"fontWeight":"normal","anchor":"start","frame":"group","offset":-8}
}
}
